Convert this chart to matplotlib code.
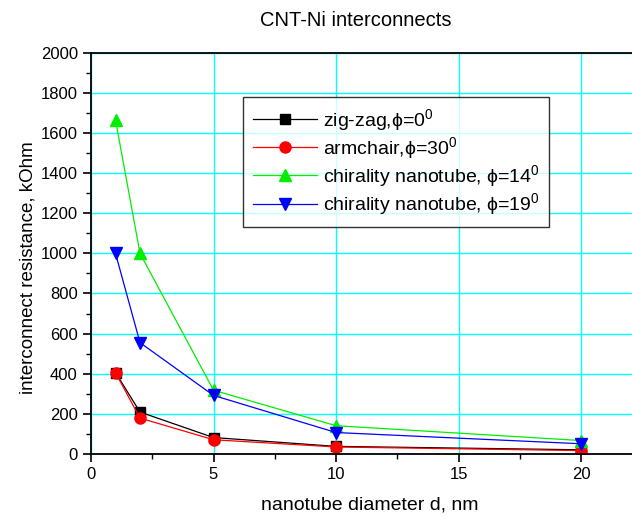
import matplotlib
matplotlib.use("Agg")
import matplotlib.pyplot as plt
from matplotlib.ticker import MultipleLocator

plt.rcParams['font.family'] = ['Liberation Sans', 'DejaVu Sans']
plt.rcParams['mathtext.fontset'] = 'custom'
plt.rcParams['mathtext.rm'] = 'Liberation Sans'
plt.rcParams['mathtext.it'] = 'Liberation Sans:italic'

diameter = [1, 2, 5, 10, 20]
zigzag = [406, 209, 82, 38, 21]
armchair = [405, 179, 71, 35, 17]
chiral14 = [1665, 1000, 318, 141, 67]
chiral19 = [1000, 555, 292, 107, 51]

labels = ["zig-zag,ϕ=0$^0$", "armchair,ϕ=30$^0$",
          "chirality nanotube, ϕ=14$^0$", "chirality nanotube, ϕ=19$^0$"]

fig = plt.figure(figsize=(6.32, 5.19), dpi=100)
ax = fig.add_axes([91/632, 65/519, 541/632, 401.3/519])

ax.plot(diameter, zigzag, color='black', marker='s', markersize=7, lw=0.9, label=labels[0])
ax.plot(diameter, armchair, color='red', marker='o', markersize=8, lw=0.9, label=labels[1])
ax.plot(diameter, chiral14, color='#00ee00', marker='^', markersize=8.5, lw=0.9, label=labels[2])
ax.plot(diameter, chiral19, color='blue', marker='v', markersize=8.5, lw=0.9, label=labels[3])

ax.set_xlim(0, 541/24.5)
ax.set_ylim(0, 2000)
ax.xaxis.set_major_locator(MultipleLocator(5))
ax.xaxis.set_minor_locator(MultipleLocator(2.5))
ax.yaxis.set_major_locator(MultipleLocator(200))
ax.yaxis.set_minor_locator(MultipleLocator(100))
ax.grid(True, which='major', color='#00ffff', lw=1.0)
ax.set_axisbelow(True)
ax.spines['right'].set_visible(False)
for s in ['left', 'bottom', 'top']:
    ax.spines[s].set_linewidth(1.3)
ax.tick_params(which='major', direction='out', length=6, width=1.2, labelsize=12)
ax.tick_params(which='minor', direction='out', length=3.5, width=1.0)
ax.tick_params(top=False, which='both')

fig.text(369.5/632, 1 - 505/519, "nanotube diameter d, nm", ha='center', va='center', fontsize=14)
fig.text(28/632, 1 - 268/519, "interconnect resistance, kOhm", ha='center', va='center',
         rotation=90, fontsize=13.5)
fig.text(355.5/632, 1 - 20/519, "CNT-Ni interconnects", ha='center', va='center', fontsize=14.5)

leg = ax.legend(loc='upper left', bbox_to_anchor=(243/632, 1 - 97/519),
                bbox_transform=fig.transFigure, fontsize=14, frameon=True,
                fancybox=False, edgecolor='black', handlelength=3.3,
                handletextpad=0.3, labelspacing=0.12, borderpad=0.5,
                borderaxespad=0)
leg.get_frame().set_linewidth(1.0)

fig.savefig("out.png", dpi=100)
